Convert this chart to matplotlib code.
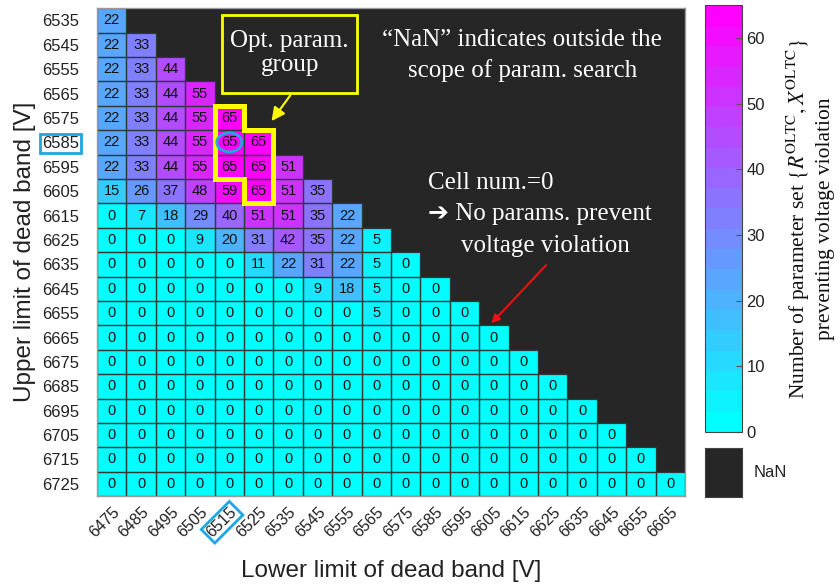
import numpy as np
import matplotlib
matplotlib.use("Agg")
import matplotlib.pyplot as plt
from matplotlib.patches import Rectangle, Ellipse
from matplotlib.collections import PatchCollection
import matplotlib.colorbar as mcolorbar

plt.rcParams["mathtext.fontset"] = "stix"

upper_labels = [6535, 6545, 6555, 6565, 6575, 6585, 6595, 6605, 6615, 6625,
                6635, 6645, 6655, 6665, 6675, 6685, 6695, 6705, 6715, 6725]
lower_labels = [6475, 6485, 6495, 6505, 6515, 6525, 6535, 6545, 6555, 6565,
                6575, 6585, 6595, 6605, 6615, 6625, 6635, 6645, 6655, 6665]

row_6535 = [22]
row_6545 = [22, 33]
row_6555 = [22, 33, 44]
row_6565 = [22, 33, 44, 55]
row_6575 = [22, 33, 44, 55, 65]
row_6585 = [22, 33, 44, 55, 65, 65]
row_6595 = [22, 33, 44, 55, 65, 65, 51]
row_6605 = [15, 26, 37, 48, 59, 65, 51, 35]
row_6615 = [0, 7, 18, 29, 40, 51, 51, 35, 22]
row_6625 = [0, 0, 0, 9, 20, 31, 42, 35, 22, 5]
row_6635 = [0, 0, 0, 0, 0, 11, 22, 31, 22, 5, 0]
row_6645 = [0, 0, 0, 0, 0, 0, 0, 9, 18, 5, 0, 0]
row_6655 = [0, 0, 0, 0, 0, 0, 0, 0, 0, 5, 0, 0, 0]
row_6665 = [0] * 14
row_6675 = [0] * 15
row_6685 = [0] * 16
row_6695 = [0] * 17
row_6705 = [0] * 18
row_6715 = [0] * 19
row_6725 = [0] * 20

rows = [row_6535, row_6545, row_6555, row_6565, row_6575, row_6585, row_6595,
        row_6605, row_6615, row_6625, row_6635, row_6645, row_6655, row_6665,
        row_6675, row_6685, row_6695, row_6705, row_6715, row_6725]

# optimal parameter group cells (upper, lower)
opt_cells = [(6575, 6515), (6585, 6515), (6585, 6525),
             (6595, 6515), (6595, 6525), (6605, 6525)]
best_upper, best_lower = 6585, 6515

nr, nc = len(upper_labels), len(lower_labels)
Z = np.full((nr, nc), np.nan)
for i, r in enumerate(rows):
    Z[i, :len(r)] = r
Zm = np.ma.masked_invalid(Z)

vmax = 65
cmap = plt.get_cmap("cool", 21)
nan_color = "#262626"

fig = plt.figure(figsize=(8.4, 5.85), dpi=100)
ax = fig.add_axes([0.1155, 0.152, 0.70, 0.834])
ax.set_facecolor(nan_color)
xe = np.arange(nc + 1) - 0.5
ye = np.arange(nr + 1) - 0.5
ax.pcolormesh(xe, ye, Zm, cmap=cmap, vmin=0, vmax=vmax, edgecolors="none")
ax.set_xlim(-0.5, nc - 0.5)
ax.set_ylim(nr - 0.5, -0.5)

grid_cells = []
for i in range(nr):
    for j in range(nc):
        if not np.isnan(Z[i, j]):
            grid_cells.append(Rectangle((j - 0.5, i - 0.5), 1, 1))
            ax.text(j, i, f"{int(Z[i, j])}", ha="center", va="center",
                    fontsize=10.5, color="#111111", family="Liberation Sans")
ax.add_collection(PatchCollection(grid_cells, facecolor="none",
                                  edgecolor="#2f3b3b", linewidth=0.9, zorder=2))

ax.set_xticks(range(nc))
ax.set_xticklabels([str(v) for v in lower_labels], rotation=45, ha="right",
                   rotation_mode="anchor", fontsize=11.5, family="Liberation Sans",
                   color="#222222")
ax.set_yticks(range(nr))
ax.set_yticklabels([str(v) for v in upper_labels], fontsize=12,
                   family="Liberation Sans", color="#222222")
ax.tick_params(axis="x", length=0, pad=6)
ax.tick_params(axis="y", length=0, pad=13)
for s in ax.spines.values():
    s.set_color("#9a9a9a")
    s.set_linewidth(1.0)

ax.set_xlabel("Lower limit of dead band [V]", fontsize=17.5,
              family="Liberation Sans", color="#222222", labelpad=14)
ax.set_ylabel("Upper limit of dead band [V]", fontsize=17.5,
              family="Liberation Sans", color="#222222", labelpad=4)

blue = "#1ea7e1"
yi = upper_labels.index(best_upper)
xj = lower_labels.index(best_lower)
ax.get_yticklabels()[yi].set_bbox(dict(facecolor="none", edgecolor=blue, lw=2, pad=1.5))
ax.get_xticklabels()[xj].set_bbox(dict(facecolor="none", edgecolor=blue, lw=2, pad=1.5))

# yellow outline of optimal group
cells = set((upper_labels.index(u), lower_labels.index(l)) for u, l in opt_cells)
edges = {}
for (i, j) in cells:
    for (a, b) in [((j - .5, i - .5), (j + .5, i - .5)), ((j + .5, i - .5), (j + .5, i + .5)),
                   ((j + .5, i + .5), (j - .5, i + .5)), ((j - .5, i + .5), (j - .5, i - .5))]:
        key = tuple(sorted([a, b]))
        edges[key] = edges.get(key, 0) + 1
for (a, b), cnt in edges.items():
    if cnt == 1:
        ax.plot([a[0], b[0]], [a[1], b[1]], color="#ffff00", lw=3.6,
                solid_capstyle="projecting", zorder=5)

ax.add_patch(Ellipse((xj, yi), 0.85, 0.78, facecolor="none", edgecolor=blue,
                     lw=2, zorder=6))

# Opt. param. group box
ax.add_patch(Rectangle((3.75, -0.21), 4.59, 3.19, facecolor="none",
                       edgecolor="#ffff00", lw=2, zorder=6, clip_on=False))
ax.text(6.05, 1.35, "Opt. param.\ngroup", ha="center", va="center",
        fontsize=18, color="white", family="Liberation Serif", linespacing=1.1)
ax.annotate("", xy=(5.38, 4.22), xytext=(6.13, 2.98),
            arrowprops=dict(arrowstyle="-|>", color="#ffff00", lw=1.5,
                            mutation_scale=20), zorder=6)

ax.text(13.96, 0.81, "\u201cNaN\u201d indicates outside the", ha="center", va="center",
        fontsize=18, color="white", family="Liberation Serif")
ax.text(13.96, 2.04, "scope of param. search", ha="center", va="center",
        fontsize=18, color="white", family="Liberation Serif")

ax.text(10.76, 6.67, "Cell num.=0", ha="left", va="center",
        fontsize=18, color="white", family="Liberation Serif")
ax.text(10.76, 7.95, "\u2794 No params. prevent", ha="left", va="center",
        fontsize=18, color="white", family=["Liberation Serif", "DejaVu Sans"])
ax.text(11.88, 9.25, "voltage violation", ha="left", va="center",
        fontsize=18, color="white", family="Liberation Serif")
ax.annotate("", xy=(12.85, 12.5), xytext=(14.84, 9.95),
            arrowprops=dict(arrowstyle="-|>", color="#ee1111", lw=1.5,
                            mutation_scale=12))

# colorbar
cax = fig.add_axes([0.839, 0.2615, 0.044, 0.7295])
norm = matplotlib.colors.Normalize(vmin=0, vmax=vmax)
cb = mcolorbar.ColorbarBase(cax, cmap=cmap, norm=norm)
cb.set_ticks([0, 10, 20, 30, 40, 50, 60])
cb.ax.tick_params(labelsize=12, length=4, width=0.8, direction="in", color="#555555")
for t in cb.ax.get_yticklabels():
    t.set_family("Liberation Sans")
    t.set_color("#222222")
cb.outline.set_edgecolor("#444444")
cb.set_label("Number of parameter set $\\{R^{\\mathrm{OLTC}}, X^{\\mathrm{OLTC}}\\}$\n"
             "preventing voltage violation", fontsize=15.5, family="Liberation Serif",
             color="#111111", labelpad=14, linespacing=1.3)

nax = fig.add_axes([0.839, 0.150, 0.044, 0.084])
nax.set_facecolor(nan_color)
nax.set_xticks([])
nax.set_yticks([])
for s in nax.spines.values():
    s.set_color("#444444")
fig.text(0.897, 0.192, "NaN", ha="left", va="center", fontsize=12,
         family="Liberation Sans", color="#222222")

fig.savefig("out.png", dpi=100)
